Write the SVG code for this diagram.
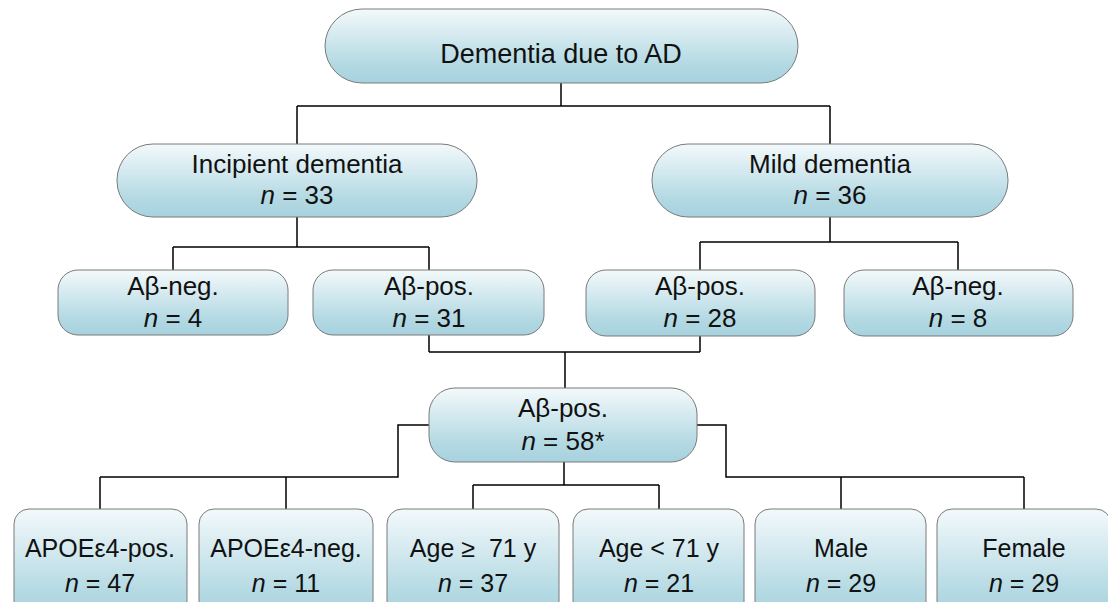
<svg xmlns="http://www.w3.org/2000/svg" width="1108" height="602" viewBox="0 0 1108 602">
<defs>
<linearGradient id="g" x1="0" y1="0" x2="0" y2="1">
<stop offset="0" stop-color="#f3f9fb"/>
<stop offset="0.75" stop-color="#b3d9e3"/>
<stop offset="1" stop-color="#a6d2de"/>
</linearGradient>
</defs>
<style>
.box{fill:url(#g);stroke:#7a7a7a;stroke-width:1}
.t{font-family:"Liberation Sans",Arial,sans-serif;font-size:26px;fill:#111;text-anchor:middle}
.s{font-size:25px}
.c{fill:none;stroke:#000;stroke-width:1.5}
</style>
<rect width="1108" height="602" fill="#fff"/>
<g id="connectors" class="c">
<path d="M561 83V106M297 106H830M297 106V144M830 106V144"/>
<path d="M297 217V247M173 247H429M173 247V270M429 247V270"/>
<path d="M830 217V242M700 242H958M700 242V270M958 242V270"/>
<path d="M429 335V352M700 336V352M429 352H700M565 352V388"/>
<path d="M429 425H398V477H100M100 477V509M286 477V509"/>
<path d="M564 462V485M473 485H659M473 485V509M659 485V509"/>
<path d="M697 425H726V477H1024M841 477V509M1024 477V509"/>
</g>
<g id="root">
<rect class="box" x="325" y="9" width="473" height="74" rx="37"/>
<text class="t" x="561" y="63" style="font-size:27px">Dementia due to AD</text>
</g>
<g id="incipient">
<rect class="box" x="117" y="144" width="360" height="73" rx="36"/>
<text class="t" x="297" y="173">Incipient dementia</text>
<text class="t" x="297" y="204"><tspan font-style="italic">n</tspan> = 33</text>
</g>
<g id="mild">
<rect class="box" x="652" y="144" width="356" height="73" rx="36"/>
<text class="t" x="830" y="173">Mild dementia</text>
<text class="t" x="830" y="204"><tspan font-style="italic">n</tspan> = 36</text>
</g>
<g id="inc-neg">
<rect class="box" x="58" y="270" width="230" height="65" rx="20"/>
<text class="t" x="173" y="295">Aβ-neg.</text>
<text class="t" x="173" y="327"><tspan font-style="italic">n</tspan> = 4</text>
</g>
<g id="inc-pos">
<rect class="box" x="313" y="270" width="231" height="65" rx="20"/>
<text class="t" x="429" y="295">Aβ-pos.</text>
<text class="t" x="429" y="327"><tspan font-style="italic">n</tspan> = 31</text>
</g>
<g id="mild-pos">
<rect class="box" x="586" y="270" width="229" height="66" rx="20"/>
<text class="t" x="700" y="295">Aβ-pos.</text>
<text class="t" x="700" y="327"><tspan font-style="italic">n</tspan> = 28</text>
</g>
<g id="mild-neg">
<rect class="box" x="844" y="270" width="229" height="66" rx="20"/>
<text class="t" x="958" y="295">Aβ-neg.</text>
<text class="t" x="958" y="327"><tspan font-style="italic">n</tspan> = 8</text>
</g>
<g id="pos-all">
<rect class="box" x="429" y="388" width="268" height="74" rx="26"/>
<text class="t" x="563" y="417">Aβ-pos.</text>
<text class="t" x="563" y="450"><tspan font-style="italic">n</tspan> = 58*</text>
</g>
<g id="apoe-pos">
<rect class="box" x="14" y="509" width="173" height="112" rx="15"/>
<text class="t s" x="100" y="557">APOEε4-pos.</text>
<text class="t s" x="100" y="592"><tspan font-style="italic">n</tspan> = 47</text>
</g>
<g id="apoe-neg">
<rect class="box" x="199" y="509" width="174" height="112" rx="15"/>
<text class="t s" x="286" y="557">APOEε4-neg.</text>
<text class="t s" x="286" y="592"><tspan font-style="italic">n</tspan> = 11</text>
</g>
<g id="age-ge">
<rect class="box" x="387" y="509" width="172" height="112" rx="15"/>
<text class="t s" x="473" y="557" xml:space="preserve">Age ≥  71 y</text>
<text class="t s" x="473" y="592"><tspan font-style="italic">n</tspan> = 37</text>
</g>
<g id="age-lt">
<rect class="box" x="573" y="509" width="171" height="112" rx="15"/>
<text class="t s" x="659" y="557">Age &lt; 71 y</text>
<text class="t s" x="659" y="592"><tspan font-style="italic">n</tspan> = 21</text>
</g>
<g id="male">
<rect class="box" x="755" y="509" width="171" height="112" rx="15"/>
<text class="t s" x="841" y="557">Male</text>
<text class="t s" x="841" y="592"><tspan font-style="italic">n</tspan> = 29</text>
</g>
<g id="female">
<rect class="box" x="937" y="509" width="174" height="112" rx="15"/>
<text class="t s" x="1024" y="557">Female</text>
<text class="t s" x="1024" y="592"><tspan font-style="italic">n</tspan> = 29</text>
</g>
</svg>
